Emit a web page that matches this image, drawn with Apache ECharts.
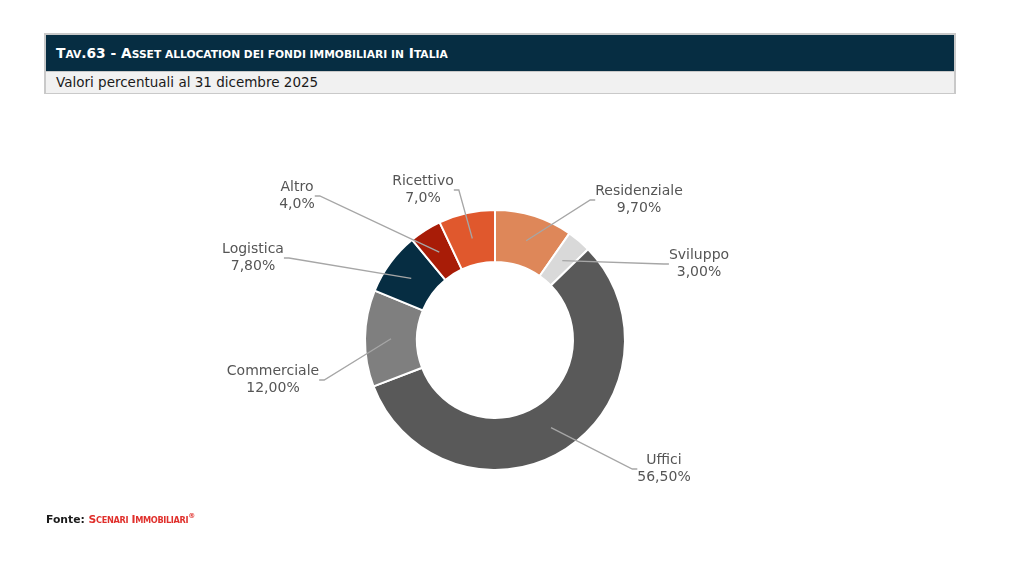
<!DOCTYPE html>
<html>
<head>
<meta charset="utf-8">
<script src="https://cdn.jsdelivr.net/npm/echarts@6/dist/echarts.min.js"></script>
<style>
  html, body { margin: 0; padding: 0; background: #fff; }
  #wrap { position: relative; width: 1024px; height: 578px; overflow: hidden; font-family: "DejaVu Sans", sans-serif; }
  #chart { position: absolute; left: 0; top: 0; width: 1024px; height: 578px; }
  .box { position: absolute; left: 44px; top: 33px; width: 908px; height: 57px; border: 2px solid #c9c9c9; }
  .bar { height: 36px; background: #062d42; color: #fff; font-weight: bold; font-size: 13.8px;
         line-height: 37px; padding-left: 10px; letter-spacing: 0; white-space: nowrap; }
  .bar .sc { text-transform: uppercase; font-size: 10.7px; }
  .sub { height: 21px; background: #f1f1f1; border-top: 1px solid #c9c9c9; color: #1a1a1a;
         font-size: 13.5px; line-height: 20px; padding-left: 10px; }
  .fonte { position: absolute; left: 46px; top: 512px; font-size: 10.8px; font-weight: bold; color: #1a1a1a; white-space: nowrap; }
  .fonte .red { color: #e0302c; font-size: 10.8px; letter-spacing: -0.35px; }
  .fonte .red .sc { text-transform: uppercase; font-size: 8.2px; }
  .fonte sup { font-size: 7px; }
</style>
</head>
<body>
<div id="wrap">
  <div id="chart"></div>
  <div class="box">
    <div class="bar">T<span class="sc">av</span>.63 - A<span class="sc">sset allocation dei fondi immobiliari in</span> I<span class="sc">talia</span></div>
    <div class="sub">Valori percentuali al 31 dicembre 2025</div>
  </div>
  <div class="fonte">Fonte: <span class="red">S<span class="sc">cenari</span> I<span class="sc">mmobiliari</span><sup>®</sup></span></div>
</div>
<script>
// segments, clockwise from 12 o'clock
const categories = ['Residenziale', 'Sviluppo', 'Uffici', 'Commerciale', 'Logistica', 'Altro', 'Ricettivo'];
const values     = [9.7, 3.0, 56.5, 12.0, 7.8, 4.0, 7.0];
const valueText  = ['9,70%', '3,00%', '56,50%', '12,00%', '7,80%', '4,0%', '7,0%'];

const colors = ['#de8759', '#d9d9d9', '#595959', '#7f7f7f', '#062d42', '#a81c07', '#e0582d'];
// label block centres
const labelPos = [[639, 200], [699, 264], [664, 469], [273, 380], [253, 258], [297, 196], [423, 190]];

const center = [495, 340];

const chart = echarts.init(document.getElementById('chart'));

const ringData = categories.map((name, i) => ({
  name, value: values[i], itemStyle: { color: colors[i] }
}));
const labelData = categories.map((name, i) => ({ name, value: values[i] }));

chart.setOption({
  animation: false,
  series: [
    {
      type: 'pie',
      z: 2,
      silent: true,
      center: center,
      radius: [78, 130],
      startAngle: 90,
      clockwise: true,
      itemStyle: { borderColor: '#fff', borderWidth: 2 },
      label: { show: false },
      labelLine: { show: false },
      data: ringData
    },
    {
      // transparent copy, only carries the labels so the leader lines start mid-ring
      type: 'pie',
      z: 3,
      silent: true,
      center: center,
      radius: [0, 104],
      startAngle: 90,
      clockwise: true,
      avoidLabelOverlap: false,
      itemStyle: { color: 'rgba(0,0,0,0)' },
      label: {
        show: true,
        color: '#555555',
        fontFamily: 'DejaVu Sans',
        fontSize: 14,
        lineHeight: 17,
        align: 'center',
        formatter: p => `${p.name}\n${valueText[p.dataIndex]}`
      },
      labelLine: {
        show: true,
        length: 10,
        length2: 5,
        lineStyle: { color: '#a6a6a6', width: 1.3 }
      },
      labelLayout: params => {
        const pos = labelPos[params.dataIndex];
        return { x: pos[0], y: pos[1], align: 'center', verticalAlign: 'middle' };
      },
      data: labelData
    }
  ]
});
</script>
</body>
</html>
